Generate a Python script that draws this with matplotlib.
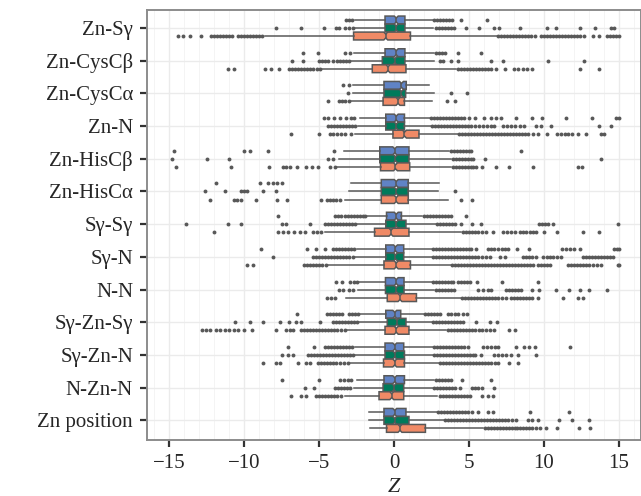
import matplotlib.pyplot as plt
from matplotlib.ticker import MultipleLocator

plt.rcParams['font.family'] = ['Liberation Serif', 'DejaVu Serif']

categories = ['Zn-Sγ', 'Zn-CysCβ', 'Zn-CysCα', 'Zn-N', 'Zn-HisCβ', 'Zn-HisCα',
              'Sγ-Sγ', 'Sγ-N', 'N-N', 'Sγ-Zn-Sγ', 'Sγ-Zn-N', 'N-Zn-N', 'Zn position']

# --- series 1 (blue) ---
blue_q1 = [-0.6, -0.6, -0.67, -0.55, -0.95, -0.85, -0.5, -0.55, -0.57, -0.55, -0.6, -0.67, -0.67]
blue_med = [0.15, 0.15, 0.5, 0.15, 0.05, 0.15, 0.15, 0.1, 0.15, 0.05, 0.05, 0.05, 0.05]
blue_q3 = [0.73, 0.73, 0.82, 0.7, 1.0, 0.95, 0.5, 0.65, 0.67, 0.45, 0.65, 0.7, 0.8]
blue_lo = [-2.6, -2.7, -2.75, -2.3, -3.35, -2.85, -1.85, -2.5, -2.35, -2.3, -2.6, -2.5, -1.65]
blue_hi = [2.6, 2.7, 2.35, 2.4, 3.7, 3.0, 1.9, 2.55, 2.55, 2.05, 2.6, 2.7, 2.9]
blue_fliers = [
    [-3.2, -3.0, -2.8, 2.7, 2.9, 3.1, 3.3, 3.5, 3.7, 3.9, 4.5, 6.2],
    [-6.1, -5.1, -3.3, -2.95, 2.8, 3.0, 3.2, 3.4, 4.3, 5.8],
    [-3.4, -3.0],
    [-4.7, -4.4, -4.0, -3.6, -3.2, -2.9, -2.7, 2.5, 2.7, 2.9, 3.1, 3.3, 3.5, 3.7, 3.9, 4.1,
     4.3, 4.5, 4.7, 5.0, 5.4, 6.0, 6.5, 6.8, 7.15, 8.15, 9.2, 9.9, 11.5, 13.2, 14.8, 15.0],
    [-14.7, -10.0, -9.6, -8.4, -4.0, 3.8, 4.0, 4.2, 4.4, 4.6, 4.8, 5.0, 5.15, 8.5],
    [-11.9, -8.95, -8.4, -8.1, -7.8, -7.5],
    [-7.75, -3.95, -3.75, -3.55, -3.3, -3.1, -2.9, -2.7, -2.5, -2.3, -2.1, -1.95,
     2.0, 2.2, 2.4, 2.6, 2.8, 3.0, 3.2, 3.4, 3.6, 3.8, 4.8],
    [-8.9, -5.8, -5.2, -4.6, -4.05, -3.85, -3.65, -3.45, -3.25, -3.05, -2.85, -2.65,
     2.6, 2.8, 3.0, 3.2, 3.4, 3.6, 3.8, 4.0, 4.2, 4.4, 4.6, 4.8, 5.0, 5.15, 5.5,
     6.25, 6.45, 6.7, 6.95, 7.2, 7.4, 7.6, 8.25, 9.05, 11.25, 11.5, 11.75, 12.0, 12.4,
     14.7, 14.9, 15.05],
    [-3.85, -3.5, -2.95, -2.7, -2.5, 2.6, 2.8, 3.0, 3.2, 3.4, 3.6, 3.8, 3.95,
     4.25, 4.45, 4.65, 4.85, 5.05, 5.55, 7.2, 9.6],
    [-6.45, -4.5, -4.3, -4.1, -3.9, -3.65, -3.45, -3.0, -2.8, -2.6, -2.4,
     2.1, 2.3, 2.5, 2.7, 2.9, 3.1, 3.6, 3.8, 4.05, 4.3, 4.6, 4.9],
    [-7.05, -5.35, -4.6, -4.4, -4.2, -4.0, -3.8, -3.6, -3.4, -3.2, -3.0, -2.8,
     2.65, 2.85, 3.05, 3.25, 3.45, 3.65, 3.85, 4.05, 4.25, 4.45, 4.7, 4.95,
     5.95, 6.2, 6.5, 6.75, 6.95, 8.15, 8.7, 9.0, 9.4, 11.75],
    [-7.45, -5.0, -3.6, -3.35, -3.1, -2.9, 2.8, 3.0, 3.2, 3.4, 3.6, 3.8, 4.55, 6.45],
    [2.95, 3.15, 3.35, 3.55, 3.75, 3.95, 4.15, 4.35, 4.55, 4.75, 4.95, 5.2, 5.6,
     6.3, 6.6, 9.1, 11.7],
]

# --- series 2 (green) ---
green_q1 = [-0.6, -0.78, -0.67, -0.55, -0.95, -0.85, -0.55, -0.55, -0.57, -0.45, -0.6, -0.73, -0.67]
green_med = [0.15, 0.05, 0.5, 0.15, 0.1, 0.15, 0.15, 0.1, 0.15, 0.2, 0.05, 0.0, 0.05]
green_q3 = [0.73, 0.73, 0.78, 0.7, 1.0, 0.95, 0.8, 0.65, 0.67, 0.8, 0.7, 0.65, 1.0]
green_lo = [-2.6, -2.85, -2.75, -2.4, -3.65, -3.0, -2.5, -2.6, -2.4, -2.35, -2.7, -2.7, -1.65]
green_hi = [2.6, 2.65, 2.7, 2.5, 3.8, 2.95, 2.8, 2.55, 2.7, 2.55, 2.6, 2.6, 3.35]
green_fliers = [
    [-7.9, -6.2, -4.7, -3.9, -3.7, -3.3, -3.0, -2.75, 2.8, 3.0, 3.2, 3.4, 3.6, 3.8, 4.0,
     4.8, 5.7, 6.7, 7.0, 8.4, 10.2, 10.8, 12.4, 13.4, 14.5, 14.7],
    [-6.8, -6.1, -5.0, -4.8, -4.6, -4.4, -4.1, -3.8, -3.6, -3.4, -3.2, -3.0,
     3.05, 3.3, 3.8, 4.3, 6.5, 7.3, 10.3, 12.7],
    [-3.05, 3.8, 4.9],
    [-4.4, -4.2, -4.0, -3.8, -3.6, -3.4, -3.2, -3.0, -2.8, -2.6,
     2.55, 2.75, 2.95, 3.15, 3.35, 3.55, 3.75, 3.95, 4.15, 4.35, 4.55, 4.75, 4.95, 5.15,
     5.4, 5.7, 5.95, 6.2, 6.45, 6.7, 7.3, 7.55, 7.8, 8.1, 8.4, 8.7, 9.5, 9.8, 10.5,
     13.7, 14.5],
    [-14.85, -12.5, -11.0, -4.4, -4.05, 3.95, 4.15, 4.35, 4.55, 4.75, 4.95, 5.15,
     5.3, 6.05, 13.8],
    [-12.6, -11.3, -10.2, -10.0, -9.85, -8.75, -7.9, 4.05],
    [-13.9, -11.1, -10.25, -7.5, -7.2, -5.6, -4.6, -4.4, -4.2, -4.0, -3.8, -3.6, -3.4,
     -3.2, -3.0, -2.8, -2.6, 2.85, 3.05, 3.25, 3.45, 3.65, 3.85, 4.05, 4.5, 5.2, 5.8,
     9.7, 9.9, 10.1, 10.3, 10.6, 14.95],
    [-8.1, -5.4, -5.2, -5.0, -4.8, -4.6, -4.4, -4.2, -4.0, -3.8, -3.6, -3.4, -3.2, -3.0,
     -2.75, 2.6, 2.8, 3.0, 3.2, 3.4, 3.6, 3.8, 4.0, 4.2, 4.4, 4.6, 4.8, 5.0, 5.2, 5.4,
     5.6, 5.85, 6.15, 6.4, 7.05, 7.4, 8.6, 8.8, 9.0, 9.2, 9.5, 9.95, 10.2, 10.4, 10.6,
     10.9, 11.15, 12.6, 12.8, 13.0, 13.2, 13.4, 13.6, 13.8, 14.0, 14.2, 14.4, 14.6],
    [-3.7, -3.4, -3.0, -2.75, 2.8, 3.0, 3.2, 3.4, 3.6, 3.8, 4.0, 5.6, 5.95, 6.3, 6.5,
     7.5, 7.7, 7.9, 8.1, 8.3, 8.5, 9.25, 9.7, 10.8, 11.7, 12.4, 13.05, 14.2],
    [-10.65, -9.6, -8.75, -7.6, -7.0, -6.55, -6.2, -4.95, -4.1, -3.9, -3.7, -3.5, -3.3,
     -3.1, -2.9, -2.7, -2.45, 2.6, 2.8, 3.0, 3.2, 3.4, 3.6, 3.8, 4.0, 4.2, 4.4, 4.6,
     5.5, 6.4, 6.9],
    [-7.45, -7.1, -6.75, -5.75, -5.55, -5.35, -5.15, -4.95, -4.75, -4.55, -4.35, -4.15,
     -3.95, -3.75, -3.55, -3.35, -3.15, -2.95, -2.75, 2.65, 2.85, 3.05, 3.25, 3.45,
     3.65, 3.85, 4.05, 4.25, 4.45, 4.65, 4.85, 5.05, 5.25, 5.4, 5.8, 6.7, 6.95, 7.2,
     7.5, 7.8, 8.3, 9.5],
    [-5.95, -5.35, -3.95, -3.75, -3.55, -3.35, -3.15, -2.95, 2.65, 2.85, 3.05, 3.25,
     3.45, 3.65, 3.85, 4.05, 4.4, 5.2, 5.4, 5.6, 5.9, 6.7],
    [3.4, 3.6, 3.8, 4.0, 4.2, 4.4, 4.6, 4.8, 5.0, 5.2, 5.4, 5.6, 5.8, 6.0, 6.2, 6.4,
     6.6, 6.8, 7.0, 7.2, 7.4, 7.6, 7.85, 8.15, 8.95, 9.25, 9.6, 11.0, 11.9, 13.0],
]

# --- series 3 (orange) ---
orange_q1 = [-2.7, -1.45, -0.73, -0.07, -0.9, -0.85, -1.3, -0.67, -0.45, -0.6, -0.7, -1.0, -0.5]
orange_med = [-0.55, -0.4, 0.27, 0.7, 0.1, 0.15, -0.2, 0.15, 0.4, 0.15, 0.05, -0.15, 0.4]
orange_q3 = [1.1, 0.8, 0.7, 1.67, 1.05, 0.95, 1.0, 1.1, 1.5, 1.0, 0.7, 0.65, 2.1]
orange_lo = [-8.6, -4.85, -2.85, -2.6, -3.85, -3.3, -4.6, -4.5, -3.2, -3.2, -3.0, -3.3, -1.6]
orange_hi = [6.9, 4.15, 2.55, 4.25, 3.8, 3.6, 4.5, 3.8, 4.5, 3.5, 3.0, 2.9, 5.95]
orange_fliers = [
    [-14.4, -14.1, -13.6, -12.9, -12.2, -12.0, -11.8, -11.6, -11.4, -11.2, -11.0, -10.8,
     -10.4, -10.2, -10.0, -9.8, -9.6, -9.4, -9.2, -9.0, -8.8, 6.95, 7.15, 7.35, 7.55,
     7.75, 7.95, 8.15, 8.35, 8.55, 8.75, 8.95, 9.15, 9.4, 9.8, 10.0, 10.2, 10.4, 10.6,
     10.8, 11.0, 11.2, 11.4, 11.6, 11.8, 12.0, 12.2, 12.45, 12.7, 13.3, 13.7, 14.2,
     14.4, 14.6, 14.8, 15.0],
    [-11.1, -10.7, -8.6, -8.2, -7.7, -7.0, -6.8, -6.6, -6.4, -6.2, -6.0, -5.8, -5.6,
     -5.4, -5.15, -4.95, 4.25, 4.45, 4.65, 4.85, 5.05, 5.25, 5.45, 5.65, 5.85, 6.05,
     6.25, 6.45, 6.8, 7.4, 8.0, 8.3, 8.6, 8.9, 9.2, 12.4, 13.7],
    [-4.4, -3.7, -3.5, -3.25, -3.0, 3.55, 4.05],
    [-6.9, -5.0, -4.3, -4.05, -3.8, -3.55, -3.3, -2.85, 4.35, 4.55, 4.75, 4.95, 5.15,
     5.35, 5.55, 5.75, 5.95, 6.15, 6.35, 6.55, 6.75, 6.95, 7.15, 7.35, 7.55, 7.75,
     7.95, 8.15, 8.35, 8.55, 8.75, 8.95, 9.3, 9.6, 10.2, 10.9, 11.15, 11.4, 11.65,
     11.9, 12.3, 12.8, 13.8, 14.0],
    [-14.55, -10.9, -8.35, -7.4, -7.2, -6.95, -6.5, -5.9, -5.5, -5.1, -4.3, -3.95,
     3.95, 4.15, 4.35, 4.55, 4.75, 4.95, 5.15, 5.3, 5.5, 5.9, 6.8, 7.7, 9.3, 12.3, 12.55],
    [-12.3, -10.7, -10.5, -10.2, -9.25, -7.8, -7.15, -4.9, -4.5, -4.3, -4.1, -3.85,
     -3.6, 4.5, 5.2],
    [-12.05, -7.75, -7.4, -7.05, -6.7, -6.3, -5.95, -5.4, -5.15, -4.85, 4.6, 4.8, 5.0,
     5.2, 5.4, 5.6, 5.85, 6.15, 6.6, 7.3, 7.55, 7.8, 8.1, 8.4, 8.6, 8.85, 9.1, 9.3,
     9.5, 10.05, 10.9, 12.6, 13.7],
    [-9.85, -9.4, -6.0, -5.8, -5.6, -5.4, -5.2, -5.0, -4.8, -4.55, 3.9, 4.1, 4.3, 4.5,
     4.7, 4.9, 5.1, 5.3, 5.5, 5.7, 5.9, 6.1, 6.3, 6.5, 6.7, 6.9, 7.1, 7.3, 7.5, 7.7,
     7.9, 8.1, 8.3, 8.5, 8.7, 8.9, 9.1, 9.3, 9.6, 9.8, 10.0, 10.2, 10.4, 11.65, 11.85,
     12.05, 12.25, 12.45, 12.65, 12.85, 13.05, 13.3, 13.55, 13.8, 14.95, 15.05],
    [-4.5, -4.2, -3.95, 4.55, 4.75, 4.95, 5.15, 5.35, 5.55, 5.75, 5.95, 6.15, 6.35,
     6.55, 6.75, 6.95, 7.2, 7.5, 7.8, 8.0, 8.2, 8.4, 8.6, 8.8, 9.0, 9.2, 9.6, 11.3,
     12.3, 12.65],
    [-12.8, -12.55, -12.3, -11.9, -11.6, -11.3, -11.0, -10.7, -10.4, -10.0, -9.5, -7.85,
     -7.2, -6.95, -6.75, -6.2, -6.0, -5.8, -5.6, -5.4, -5.2, -5.0, -4.8, -4.6, -4.4,
     -4.2, -4.0, -3.8, -3.55, -3.3, 3.6, 3.8, 4.0, 4.2, 4.4, 4.6, 4.8, 5.0, 5.2, 5.4,
     5.65, 5.9, 6.15, 6.4, 6.7, 7.7, 8.1],
    [-8.75, -7.9, -7.6, -6.4, -5.85, -5.6, -5.05, -4.85, -4.65, -4.45, -4.25, -4.05,
     -3.85, -3.6, -3.35, -3.1, 3.1, 3.3, 3.5, 3.7, 3.9, 4.1, 4.3, 4.5, 4.7, 4.9, 5.1,
     5.3, 5.5, 5.7, 5.9, 6.1, 6.3, 6.5, 6.75, 6.95, 7.7, 8.3],
    [-6.9, -6.2, -5.9, -5.2, -5.0, -4.8, -4.6, -4.4, -4.2, -4.0, -3.8, -3.55, 3.05,
     3.25, 3.45, 3.65, 3.85, 4.05, 4.25, 4.45, 4.65, 4.85, 5.05, 5.9, 6.25, 6.6],
    [6.05, 6.25, 6.45, 6.65, 6.85, 7.05, 7.25, 7.45, 7.65, 7.85, 8.05, 8.25, 8.45,
     8.65, 8.85, 9.05, 9.25, 9.5, 9.75, 10.15, 10.9, 12.35, 13.1],
]

series = [
    (blue_q1, blue_med, blue_q3, blue_lo, blue_hi, blue_fliers, '#6083C5', -0.245),
    (green_q1, green_med, green_q3, green_lo, green_hi, green_fliers, '#007A5B', 0.0),
    (orange_q1, orange_med, orange_q3, orange_lo, orange_hi, orange_fliers, '#F08A66', 0.245),
]

EDGE = '#585858'

fig = plt.figure(figsize=(6.41, 4.96), dpi=100)
ax = fig.add_axes([0.2293, 0.1129, 0.7707, 0.8669])

for q1, med, q3, lo, hi, fl, color, off in series:
    stats = []
    for i in range(len(categories)):
        stats.append({'q1': q1[i], 'med': med[i], 'q3': q3[i],
                      'whislo': lo[i], 'whishi': hi[i], 'fliers': fl[i],
                      'cilo': med[i] - 0.13, 'cihi': med[i] + 0.13})
    ax.bxp(stats, positions=[i + off for i in range(len(categories))], widths=0.24,
           orientation='horizontal', patch_artist=True, shownotches=True, showcaps=False,
           boxprops=dict(facecolor=color, edgecolor=EDGE, linewidth=1.1),
           medianprops=dict(color=EDGE, linewidth=1.1),
           whiskerprops=dict(color=EDGE, linewidth=1.1),
           flierprops=dict(marker='o', markersize=2.8, markerfacecolor=EDGE,
                           markeredgecolor='none'),
           manage_ticks=False, zorder=3)

ax.set_xlim(-16.5, 16.5)
ax.set_ylim(12.6, -0.55)
ax.set_xticks([-15, -10, -5, 0, 5, 10, 15])
ax.set_xticklabels(['\u221215', '\u221210', '\u22125', '0', '5', '10', '15'])
ax.xaxis.set_minor_locator(MultipleLocator(1))
ax.set_yticks(range(len(categories)))
ax.set_yticklabels(categories)

ax.set_axisbelow(True)
ax.grid(which='major', color='#EBEBEB', linewidth=1.0)
ax.grid(which='minor', axis='x', color='#F3F3F3', linewidth=0.6)

ax.tick_params(axis='both', which='major', labelsize=15, labelcolor='#262626',
               length=5, width=1.6, color='#333333', pad=5)
ax.tick_params(which='minor', length=0)

for s in ax.spines.values():
    s.set_color('#8C8C8C')
    s.set_linewidth(1.4)

ax.set_xlabel('Z', fontsize=16, fontstyle='italic', labelpad=4, color='#262626')

fig.savefig('out.png', dpi=100)
